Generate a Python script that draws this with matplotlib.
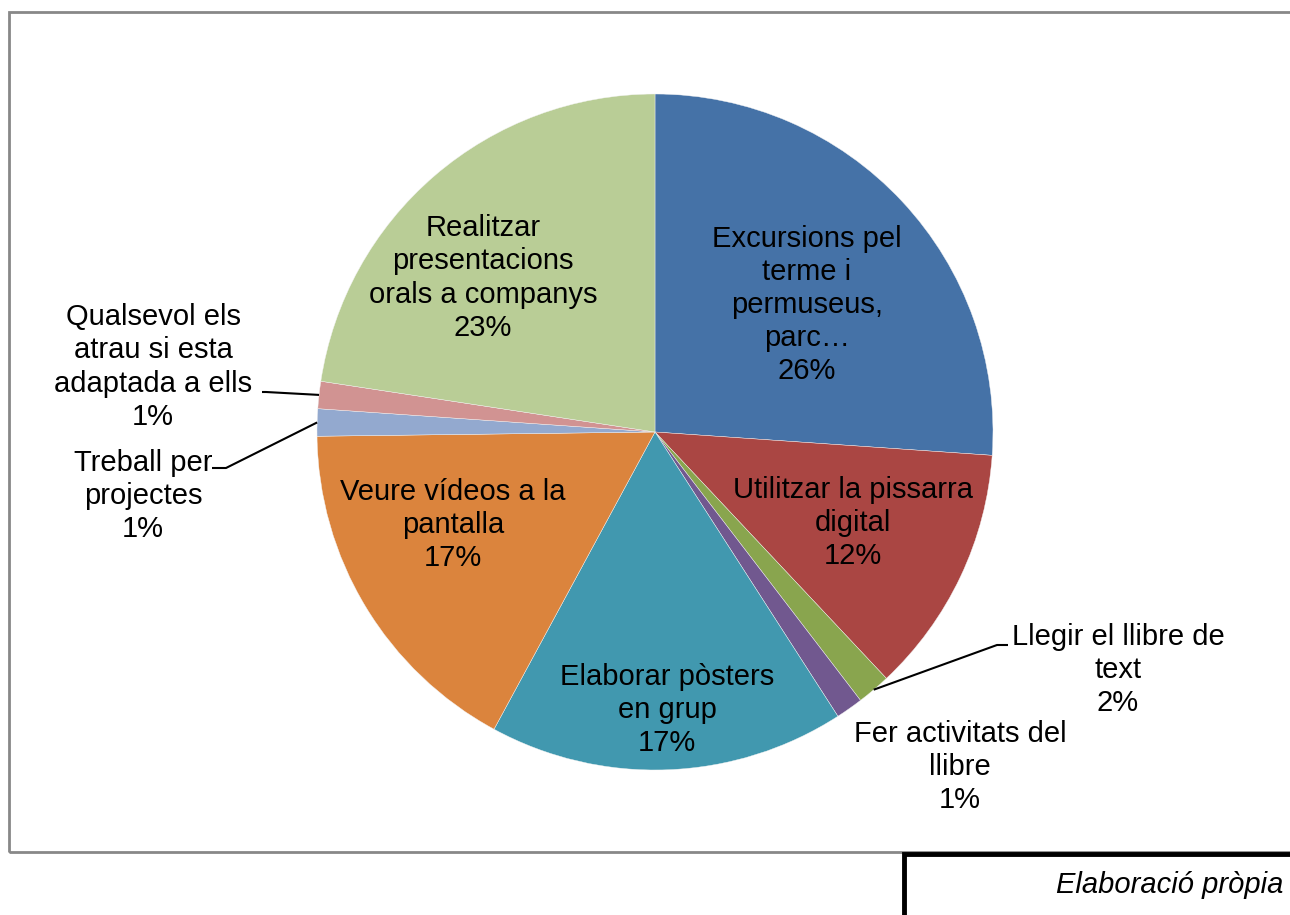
import matplotlib.pyplot as plt
import numpy as np
from matplotlib.patches import Rectangle

plt.rcParams['font.family'] = ['Liberation Sans', 'DejaVu Sans']

# Dades (percentatges llegits del gràfic)
categories = [
    'Excursions pel\nterme i\npermuseus,\nparc…',
    'Utilitzar la pissarra\ndigital',
    'Llegir el llibre de\ntext',
    'Fer activitats del\nllibre',
    'Elaborar pòsters\nen grup',
    'Veure vídeos a la\npantalla',
    'Treball per\nprojectes',
    'Qualsevol els\natrau si esta\nadaptada a ells',
    'Realitzar\npresentacions\norals a companys',
]
values = [26.1, 11.9, 1.6, 1.3, 17.0, 16.9, 1.3, 1.3, 22.6]
colors = ['#4572A7', '#AA4643', '#89A54E', '#71588F', '#4198AF',
          '#DB843D', '#93A9CF', '#D19392', '#B9CD96']

W, H = 1290, 915
fig = plt.figure(figsize=(W / 100, H / 100), dpi=100)
ax = fig.add_axes([0, 0, 1, 1])

cx, cy, r = 655, H - 432, 338
wedges, _ = ax.pie(values, colors=colors, startangle=90, counterclock=False,
                   center=(cx, cy), radius=r,
                   wedgeprops=dict(edgecolor='#f4f4f4', linewidth=0.3))
ax.set_xlim(0, W)
ax.set_ylim(0, H)
ax.set_aspect('equal')
ax.axis('off')

total = sum(values)
# posicions de les etiquetes (píxels, origen a dalt a l'esquerra)
label_pos = [(807, 305), (853, 523), (1118, 670), (960, 767), (667, 710),
             (453, 525), (143, 496), (153, 367), (483, 278)]
for name, v, (px, py) in zip(categories, values, label_pos):
    ax.text(px, H - py, f'{name}\n{v / total * 100:.0f}%', ha='center', va='center',
            fontsize=21, linespacing=1.23, color='black')

# línies guia
def edge_point(i, frac=0.5):
    w = wedges[i]
    ang = np.deg2rad(w.theta1 + (w.theta2 - w.theta1) * frac)
    return cx + r * np.cos(ang), cy + r * np.sin(ang)

leaders = {2: [(997, 645), (1008, 645)],
           6: [(226, 468), (212, 468)],
           7: [(266, 392), (262, 392)]}
for i, pts in leaders.items():
    x0, y0 = edge_point(i)
    xs = [x0] + [p[0] for p in pts]
    ys = [y0] + [H - p[1] for p in pts]
    ax.plot(xs, ys, color='black', linewidth=1.5, solid_capstyle='butt')

# marc del gràfic
ax.add_patch(Rectangle((9, H - 852), W + 20, 840, fill=False,
                       edgecolor='#888888', linewidth=2, clip_on=False))
# requadre de la font
ax.add_patch(Rectangle((904, -20), W, H - 854 + 20, fill=False,
                       edgecolor='black', linewidth=3.5, clip_on=False))
ax.text(1283, H - 885, 'Elaboració pròpia', ha='right', va='center',
        fontsize=21, style='italic')

fig.savefig('out.png', dpi=100)
